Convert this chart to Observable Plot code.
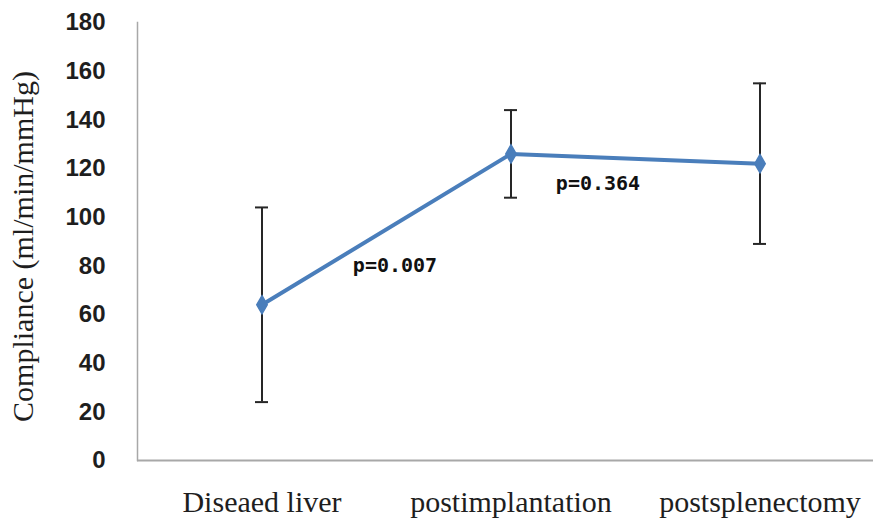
<!DOCTYPE html>
<html>
<head>
<meta charset="utf-8">
<script src="https://cdn.jsdelivr.net/npm/d3@7"></script>
<script src="https://cdn.jsdelivr.net/npm/@observablehq/plot@0.6"></script>
<style>
  html, body { margin: 0; padding: 0; background: #fff; }
  #chart svg { display: block; }
</style>
</head>
<body>
<div id="chart"></div>
<script>
// ---- data ----
const categories = ["Diseaed liver", "postimplantation", "postsplenectomy"];
const means = [64, 126, 122];
const lower = [24, 108, 89];
const upper = [104, 144, 155];
const yTicks = [0, 20, 40, 60, 80, 100, 120, 140, 160, 180];
const pLabels = ["p=0.007", "p=0.364"];
const pFrom = ["Diseaed liver", "postimplantation"];
const pY = [80, 114];
const yLabel = "Compliance (ml/min/mmHg)";

const rows = categories.map((c, i) => ({cat: c, mean: means[i], lo: lower[i], hi: upper[i]}));
const pRows = pLabels.map((t, i) => ({text: t, cat: pFrom[i], y: pY[i]}));

const blue = "#4a7ebb";
const ink = "#1e1e1e";
const axisGray = "#a8a8a8";

const chart = Plot.plot({
  width: 873,
  height: 523,
  marginLeft: 137,
  marginRight: 0,
  marginTop: 22,
  marginBottom: 63,
  style: {background: "#fff", overflow: "visible"},
  x: {type: "band", domain: categories, range: [137, 884], padding: 0},
  y: {domain: [0, 180]},
  marks: [
    Plot.frame({anchor: "left", stroke: axisGray, strokeWidth: 1.5}),
    Plot.ruleY([0], {stroke: axisGray, strokeWidth: 2}),
    Plot.axisY({ticks: yTicks, tickSize: 0, tickPadding: 32, fontSize: 24, fontWeight: "bold",
      fontFamily: "Liberation Sans, Arial, sans-serif", fill: ink, label: null}),
    Plot.axisX({tickSize: 0, tickPadding: 30, fontSize: 30,
      fontFamily: "Liberation Serif, Times New Roman, serif", fill: ink, label: null}),
    Plot.text([yLabel], {frameAnchor: "left", textAnchor: "middle", rotate: -90, dx: -114, dy: 5, fontSize: 30,
      fontFamily: "Liberation Serif, Times New Roman, serif", fill: ink}),
    // error bars
    Plot.ruleX(rows, {x: "cat", y1: "lo", y2: "hi", stroke: "#262626", strokeWidth: 2}),
    Plot.tickY(rows, {x: "cat", y: "lo", stroke: "#262626", strokeWidth: 2, insetLeft: 118, insetRight: 118}),
    Plot.tickY(rows, {x: "cat", y: "hi", stroke: "#262626", strokeWidth: 2, insetLeft: 118, insetRight: 118}),
    // mean line + markers
    Plot.line(rows, {x: "cat", y: "mean", stroke: blue, strokeWidth: 4}),
    Plot.dot(rows, {x: "cat", y: "mean", symbol: "diamond", r: 5.5, fill: blue, stroke: blue}),
    // p-value annotations
    Plot.text(pRows.slice(0, 1), {x: "cat", y: "y", text: "text", dx: 133, fontSize: 20, fontWeight: "bold",
      fontFamily: "DejaVu Sans Mono, monospace", fill: "#111"}),
    Plot.text(pRows.slice(1, 2), {x: "cat", y: "y", text: "text", dx: 87, fontSize: 20, fontWeight: "bold",
      fontFamily: "DejaVu Sans Mono, monospace", fill: "#111"})
  ]
});
document.getElementById("chart").appendChild(chart);
</script>
</body>
</html>
